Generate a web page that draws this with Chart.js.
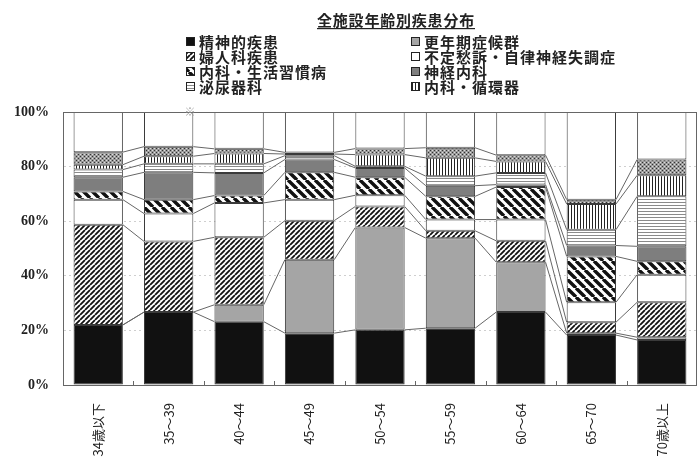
<!DOCTYPE html>
<html lang="ja">
<head>
  <meta charset="UTF-8" />
  <title>全施設年齢別疾患分布</title>
  <script src="https://cdn.jsdelivr.net/npm/chart.js"></script>
  <style>
    body { margin: 0; background: #fff; }
    .chart-box { position: relative; width: 700px; height: 468px; }
  </style>
</head>
<body>
<div class="chart-box"><canvas id="ageChart"></canvas></div>
<script>
  // age groups along the x axis
  const ageGroups = ['34歳以下', '35〜39', '40〜44', '45〜49', '50〜54', '55〜59', '60〜64', '65〜70', '70歳以上'];

  const seriesNames = [
    '精神的疾患', '更年期症候群', '婦人科疾患', '不定愁訴・自律神経失調症',
    '内科・生活習慣病', '神経内科', '泌尿器科', '内科・循環器', 'その他', '不明'
  ];

  // share (%) of each group, bottom to top
  const psychiatric = [22.0, 26.7, 23.2, 19.0, 20.2, 20.8, 26.7, 18.3, 16.5];
  const menopause   = [0.0, 0.0, 6.2, 26.9, 37.5, 33.0, 18.3, 0.7, 1.0];
  const gynecology  = [36.7, 25.9, 24.7, 14.3, 7.7, 2.7, 7.8, 4.0, 12.8];
  const autonomic   = [9.2, 10.2, 12.6, 7.7, 4.1, 4.1, 7.8, 7.3, 10.1];
  const lifestyle   = [3.0, 5.1, 2.7, 10.0, 6.6, 8.5, 11.9, 16.8, 4.9];
  const neurology   = [5.2, 10.0, 8.3, 4.7, 3.4, 3.9, 0.9, 4.0, 5.5];
  const urology     = [2.8, 3.1, 3.3, 1.4, 0.6, 3.5, 4.3, 5.8, 18.3];
  const cardiology  = [1.8, 2.8, 3.8, 0.6, 4.3, 6.7, 4.2, 9.4, 7.7];
  const others      = [4.6, 3.5, 1.7, 0.6, 2.2, 3.7, 2.3, 1.6, 5.8];
  const unknown     = [14.7, 12.7, 13.5, 14.8, 13.4, 13.1, 15.8, 32.1, 17.4];

  const yTicks = [0, 20, 40, 60, 80, 100];

  const seriesValues = [psychiatric, menopause, gynecology, autonomic, lifestyle,
                        neurology, urology, cardiology, others, unknown];

  const ctx = document.getElementById('ageChart').getContext('2d');

  // small tile canvases used as fill patterns
  function tile(w, h, draw) {
    const c = document.createElement('canvas');
    c.width = w; c.height = h;
    const g = c.getContext('2d');
    g.fillStyle = '#fff';
    g.fillRect(0, 0, w, h);
    draw(g, w, h);
    return ctx.createPattern(c, 'repeat');
  }

  function diagonal(size, width, forward) {
    return tile(size, size, (g, s) => {
      g.strokeStyle = '#111';
      g.lineWidth = width;
      g.beginPath();
      for (const k of [-s, 0, s]) {
        if (forward) { g.moveTo(k, s); g.lineTo(k + s, 0); }
        else { g.moveTo(k, 0); g.lineTo(k + s, s); }
      }
      g.stroke();
    });
  }

  const fills = [
    '#111111',
    '#a5a5a5',
    diagonal(5, 1.8, true),
    '#ffffff',
    diagonal(9, 3.4, false),
    '#7e7e7e',
    tile(4, 3, (g) => { g.fillStyle = '#8a8a8a'; g.fillRect(0, 1, 4, 1); }),
    tile(3, 4, (g) => { g.fillStyle = '#222'; g.fillRect(1, 0, 1, 4); }),
    tile(4, 4, (g) => {
      g.fillStyle = '#9a9a9a'; g.fillRect(0, 0, 4, 4);
      g.fillStyle = '#333';
      g.fillRect(0, 0, 1, 1); g.fillRect(2, 2, 1, 1);
      g.fillStyle = '#ddd';
      g.fillRect(2, 0, 1, 1); g.fillRect(0, 2, 1, 1);
    }),
    '#ffffff'
  ];

  const datasets = seriesNames.map((name, i) => ({
    label: name,
    data: seriesValues[i],
    backgroundColor: fills[i],
    borderColor: '#3a3a3a',
    borderWidth: 1,
    borderSkipped: false,
    barPercentage: 0.7,
    categoryPercentage: 1
  }));

  const jpFont = "'Noto Sans CJK JP', 'Noto Sans', sans-serif";

  // frame around the plot, small ticks, and lines joining the segment tops
  const framePlugin = {
    id: 'frameAndSeriesLines',
    afterDatasetsDraw(chart) {
      const { ctx: c, chartArea: a } = chart;
      const x = chart.scales.x;
      c.save();
      c.strokeStyle = '#666';
      c.lineWidth = 1;
      c.strokeRect(a.left + 0.5, a.top + 0.5, a.right - a.left - 1, a.bottom - a.top);

      // minor ticks between groups
      c.beginPath();
      for (let i = 0; i < ageGroups.length - 1; i++) {
        const px = Math.round((x.getPixelForValue(i) + x.getPixelForValue(i + 1)) / 2) + 0.5;
        c.moveTo(px, a.bottom);
        c.lineTo(px, a.bottom - 4);
      }
      c.stroke();

      c.strokeStyle = '#666';
      c.beginPath();
      for (let d = 0; d < seriesNames.length - 1; d++) {
        const bars = chart.getDatasetMeta(d).data;
        for (let i = 0; i < bars.length - 1; i++) {
          const p = bars[i], q = bars[i + 1];
          c.moveTo(p.x + p.width / 2, p.y);
          c.lineTo(q.x - q.width / 2, q.y);
        }
      }
      c.stroke();
      c.restore();
    },
    afterDraw(chart) {
      const c = chart.ctx;
      c.save();
      // title
      c.fillStyle = '#222';
      c.font = 'bold 15px ' + jpFont;
      c.letterSpacing = '0.8px';
      c.textAlign = 'center';
      c.textBaseline = 'middle';
      c.fillText('全施設年齢別疾患分布', 396, 20);
      const tw = c.measureText('全施設年齢別疾患分布').width;
      c.fillRect(396 - tw / 2, 28, tw, 1.2);

      // two-column legend
      c.font = 'bold 15px ' + jpFont;
      c.letterSpacing = '1px';
      c.textAlign = 'left';
      for (let i = 0; i < 8; i++) {
        const lx = i % 2 === 0 ? 186 : 411;
        const ly = 41.5 + Math.floor(i / 2) * 15;
        c.fillStyle = fills[i];
        c.fillRect(lx, ly - 4.5, 9, 9);
        c.strokeStyle = '#222';
        c.lineWidth = 1;
        c.strokeRect(lx + 0.5, ly - 4, 8, 8);
        c.fillStyle = '#222';
        c.fillText(seriesNames[i], lx + 13, ly + 1);
      }

      c.letterSpacing = '0px';
      c.fillStyle = '#999';
      c.font = '11px ' + jpFont;
      c.textAlign = 'center';
      c.fillText('※', 190, 112);
      c.restore();
    }
  };

  new Chart(ctx, {
    type: 'bar',
    data: { labels: ageGroups, datasets },
    options: {
      responsive: true,
      maintainAspectRatio: false,
      animation: false,
      layout: { padding: { top: 112, right: 3, left: 0, bottom: 0 } },
      plugins: {
        legend: { display: false },
        tooltip: { enabled: false }
      },
      scales: {
        x: {
          stacked: true,
          grid: { display: false },
          border: { display: false },
          ticks: {
            color: '#222',
            font: { family: jpFont, size: 13 },
            minRotation: 90,
            maxRotation: 90,
            padding: 10
          },
          afterFit(scale) { scale.height = 83; }
        },
        y: {
          stacked: true,
          min: 0,
          max: 100,
          afterBuildTicks(scale) { scale.ticks = yTicks.map(v => ({ value: v })); },
          ticks: {
            color: '#222',
            padding: 14,
            font: { family: "'Liberation Serif', serif", size: 14, weight: 'bold' },
            callback: v => v + '%'
          },
          grid: {
            color: ctx => (ctx.tick.value > 0 && ctx.tick.value < 100) ? '#cfcfcf' : 'rgba(0,0,0,0)',
            drawTicks: false
          },
          border: { display: true, color: '#666', dash: [2, 3] },
          afterFit(scale) { scale.width = 63; }
        }
      }
    },
    plugins: [framePlugin]
  });
</script>
</body>
</html>
